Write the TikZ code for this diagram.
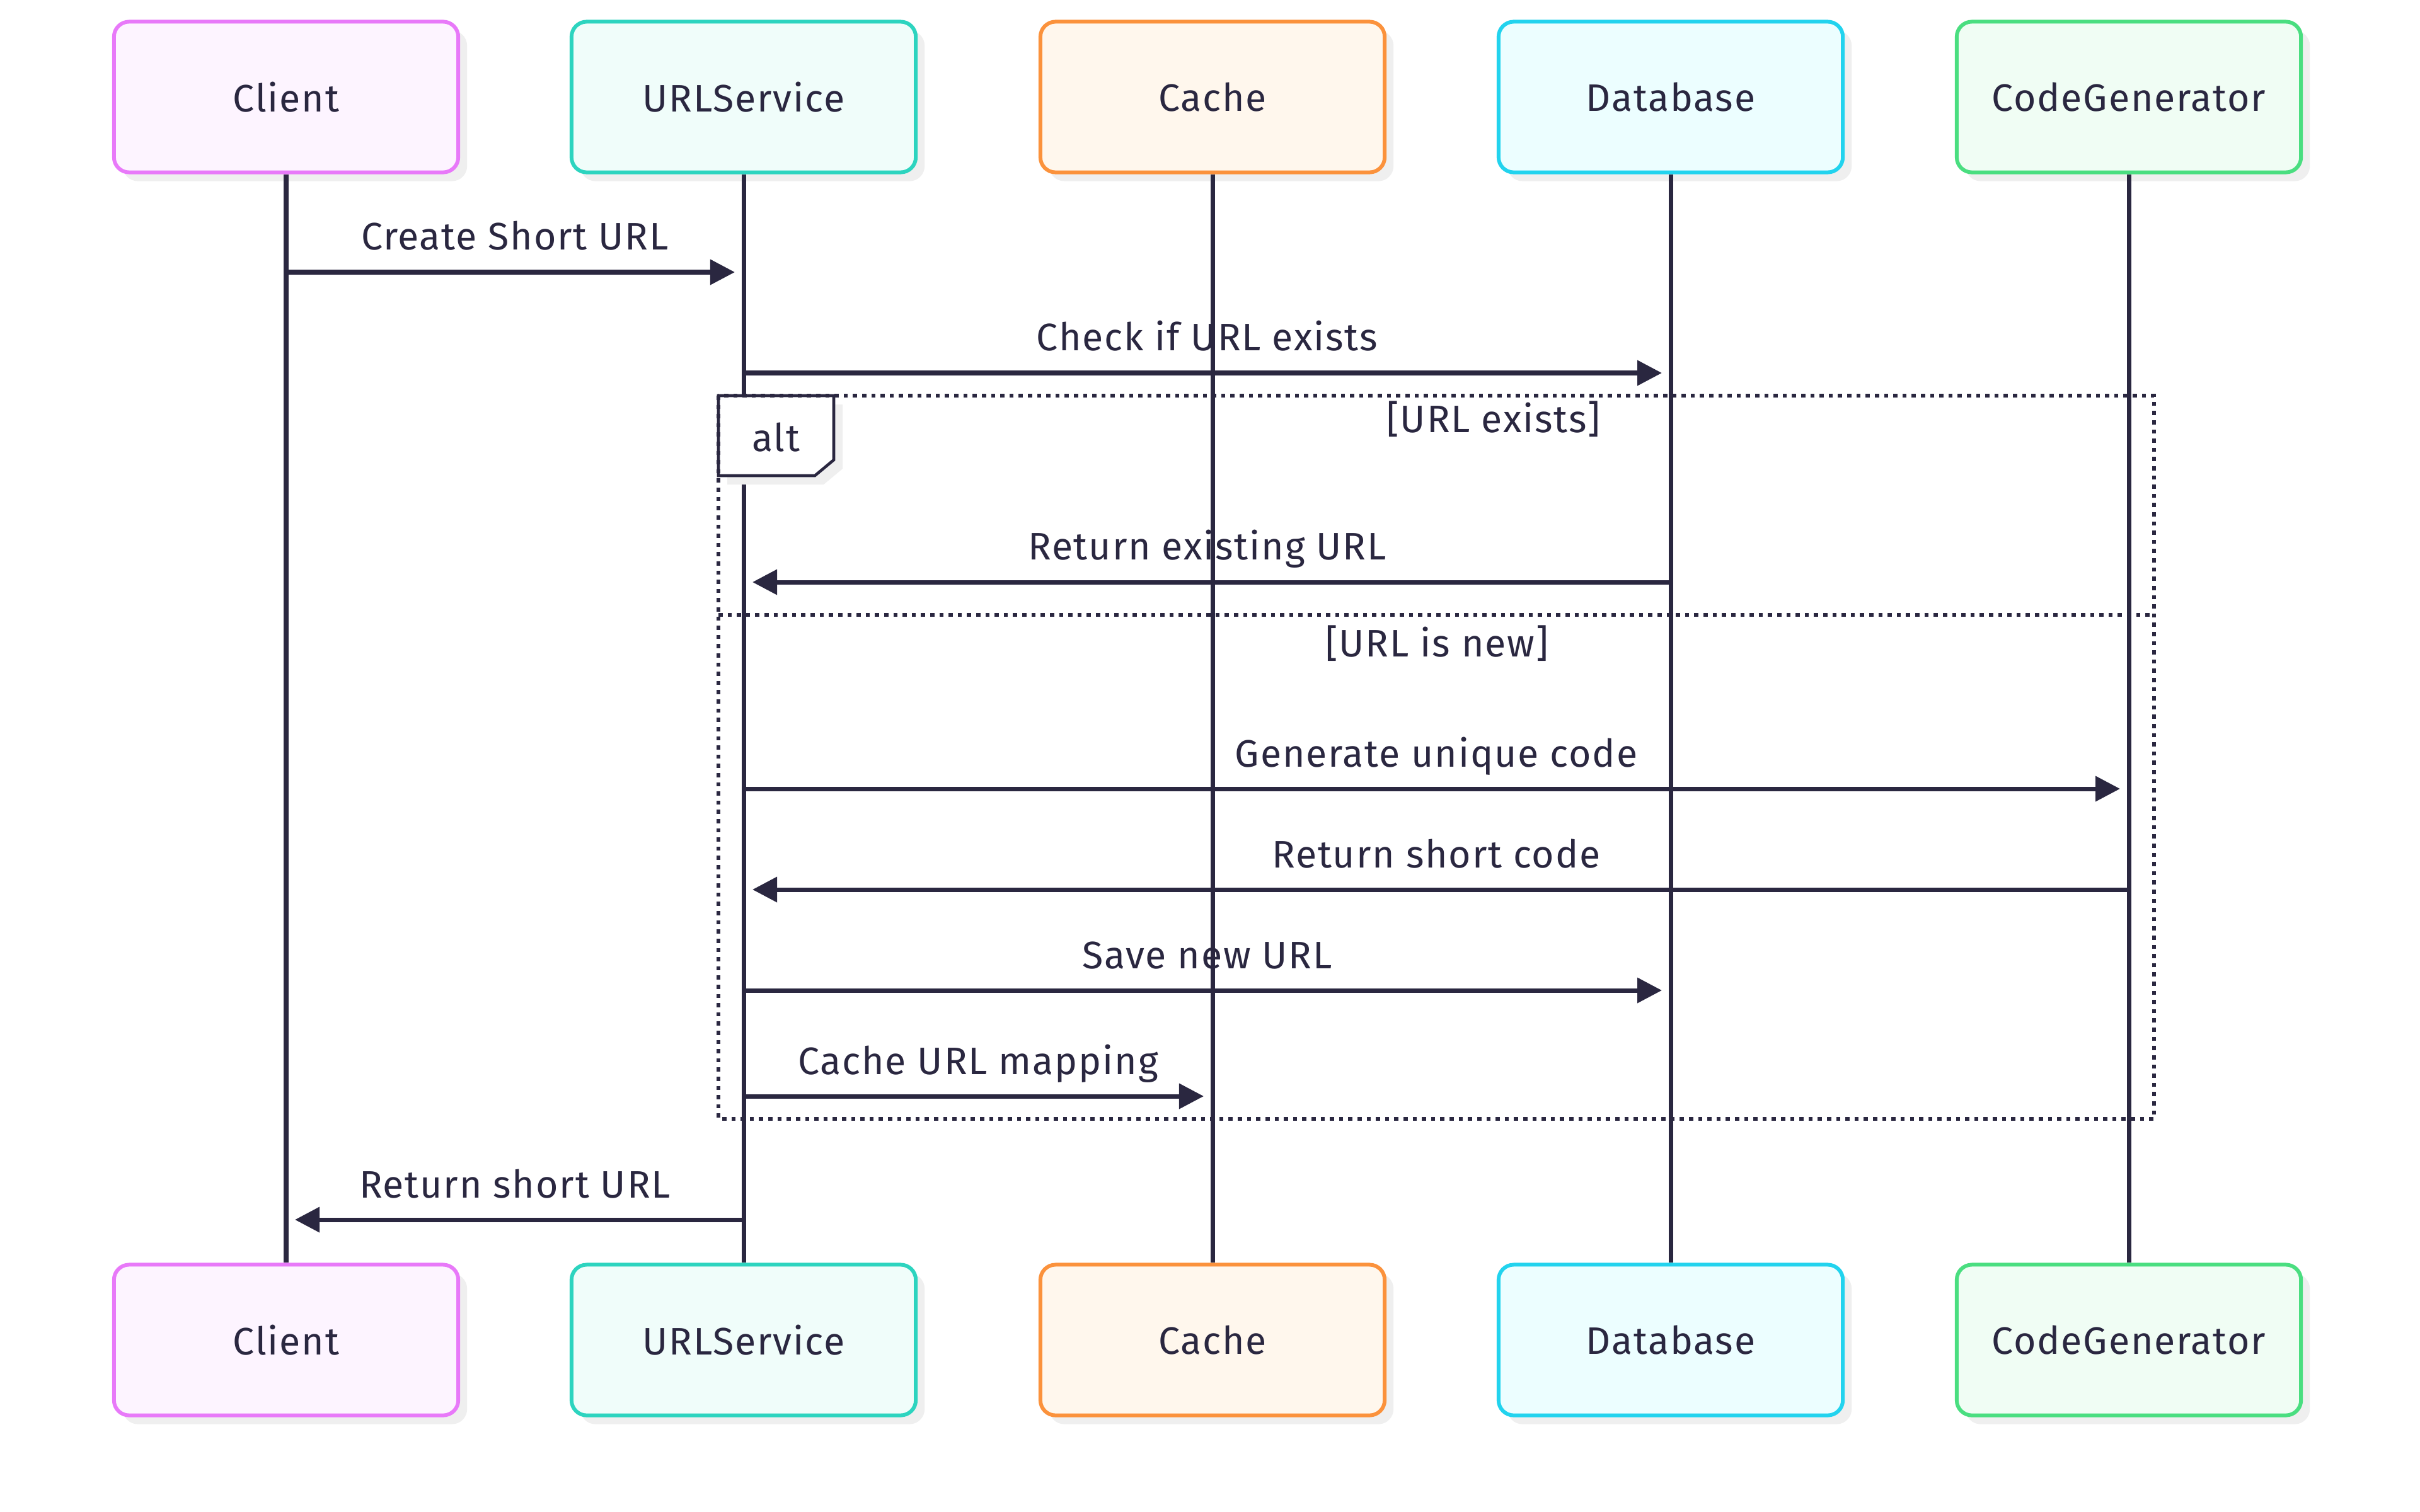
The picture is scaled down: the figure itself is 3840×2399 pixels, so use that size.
\documentclass[tikz,border=0pt]{standalone}
\usepackage{fontspec}
\setmainfont{Fira Sans}[LetterSpace=3]
\usetikzlibrary{arrows.meta,shadows}

\definecolor{ink}{HTML}{2A2740}
\definecolor{shadowgrey}{HTML}{EFEFEF}
\definecolor{clientline}{HTML}{E879F9}
\definecolor{clientfill}{HTML}{FDF4FF}
\definecolor{serviceline}{HTML}{2DD4BF}
\definecolor{servicefill}{HTML}{F0FDFA}
\definecolor{cacheline}{HTML}{FB923C}
\definecolor{cachefill}{HTML}{FFF7ED}
\definecolor{dbline}{HTML}{22D3EE}
\definecolor{dbfill}{HTML}{ECFEFF}
\definecolor{genline}{HTML}{4ADE80}
\definecolor{genfill}{HTML}{F0FDF4}

\tikzset{
  txt/.style={text=ink,font=\fontsize{17.3}{20}\selectfont},
  actor/.style={txt,rectangle,rounded corners=0.24cm,line width=1.7pt,
    minimum width=5.46cm,minimum height=2.39cm,
    drop shadow={shadow xshift=0.14cm,shadow yshift=-0.14cm,fill=shadowgrey,opacity=1}},
  lifeline/.style={draw=ink,line width=2pt},
  msg/.style={draw=ink,line width=2pt,-{Triangle[length=0.39cm,width=0.39cm]},shorten >=0.14cm},
  msglabel/.style={txt,anchor=base,yshift=0.35cm,inner sep=0pt},
  guard/.style={txt,anchor=base,inner sep=0pt},
  altframe/.style={draw=ink,line width=1.9pt,dash pattern=on 0.066cm off 0.08cm}
}

\begin{document}
\begin{tikzpicture}[x=0.01cm,y=-0.01cm]

  \useasboundingbox[fill=white] (0,0) rectangle (3840,2399);

  \begin{scope}[every node/.style={actor}]
    \node[draw=clientline,fill=clientfill]   (client)    at (454,154)  {Client};
    \node[draw=serviceline,fill=servicefill] (service)   at (1180,154) {URLService};
    \node[draw=cacheline,fill=cachefill]     (cache)     at (1924,154) {Cache};
    \node[draw=dbline,fill=dbfill]           (database)  at (2651,154) {Database};
    \node[draw=genline,fill=genfill]         (generator) at (3378,154) {CodeGenerator};
    \node[draw=clientline,fill=clientfill]   (clientB)    at (454,2127)  {Client};
    \node[draw=serviceline,fill=servicefill] (serviceB)   at (1180,2127) {URLService};
    \node[draw=cacheline,fill=cachefill]     (cacheB)     at (1924,2127) {Cache};
    \node[draw=dbline,fill=dbfill]           (databaseB)  at (2651,2127) {Database};
    \node[draw=genline,fill=genfill]         (generatorB) at (3378,2127) {CodeGenerator};
  \end{scope}

  \begin{scope}[every edge/.style={lifeline}]
    \path (client)    edge (clientB);
    \path (service)   edge (serviceB);
    \path (cache)     edge (cacheB);
    \path (database)  edge (databaseB);
    \path (generator) edge (generatorB);
  \end{scope}

  \fill[shadowgrey] (1154,642) -- (1337,642) -- (1337,744) -- (1307,769) -- (1154,769) -- cycle;
  \draw[ink,fill=white,line width=1.3pt] (1140,628) -- (1323,628) -- (1323,730) -- (1293,755) -- (1140,755) -- cycle;
  \node[guard] (alt) at (1231,716) {alt};

  \draw[altframe] (1140,628) rectangle (3418,1776);
  \draw[altframe] (1140,976) -- (3418,976);

  \node[guard] (exists) at (2370,686)  {[URL exists]};
  \node[guard] (isnew)  at (2280,1042) {[URL is new]};

  \coordinate (m1) at (0,432);
  \coordinate (m2) at (0,592);
  \coordinate (m3) at (0,924);
  \coordinate (m4) at (0,1252);
  \coordinate (m5) at (0,1412);
  \coordinate (m6) at (0,1572);
  \coordinate (m7) at (0,1740);
  \coordinate (m8) at (0,1936);

  \begin{scope}[every edge/.style={msg}]
    \path (client |- m1)    edge node[msglabel] {Create Short URL}     (service |- m1);
    \path (service |- m2)   edge node[msglabel] {Check if URL exists}  (database |- m2);
    \path (database |- m3)  edge node[msglabel] {Return existing URL}  (service |- m3);
    \path (service |- m4)   edge node[msglabel] {Generate unique code} (generator |- m4);
    \path (generator |- m5) edge node[msglabel] {Return short code}    (service |- m5);
    \path (service |- m6)   edge node[msglabel] {Save new URL}         (database |- m6);
    \path (service |- m7)   edge node[msglabel] {Cache URL mapping}    (cache |- m7);
    \path (service |- m8)   edge node[msglabel] {Return short URL}     (client |- m8);
  \end{scope}

\end{tikzpicture}
\end{document}
